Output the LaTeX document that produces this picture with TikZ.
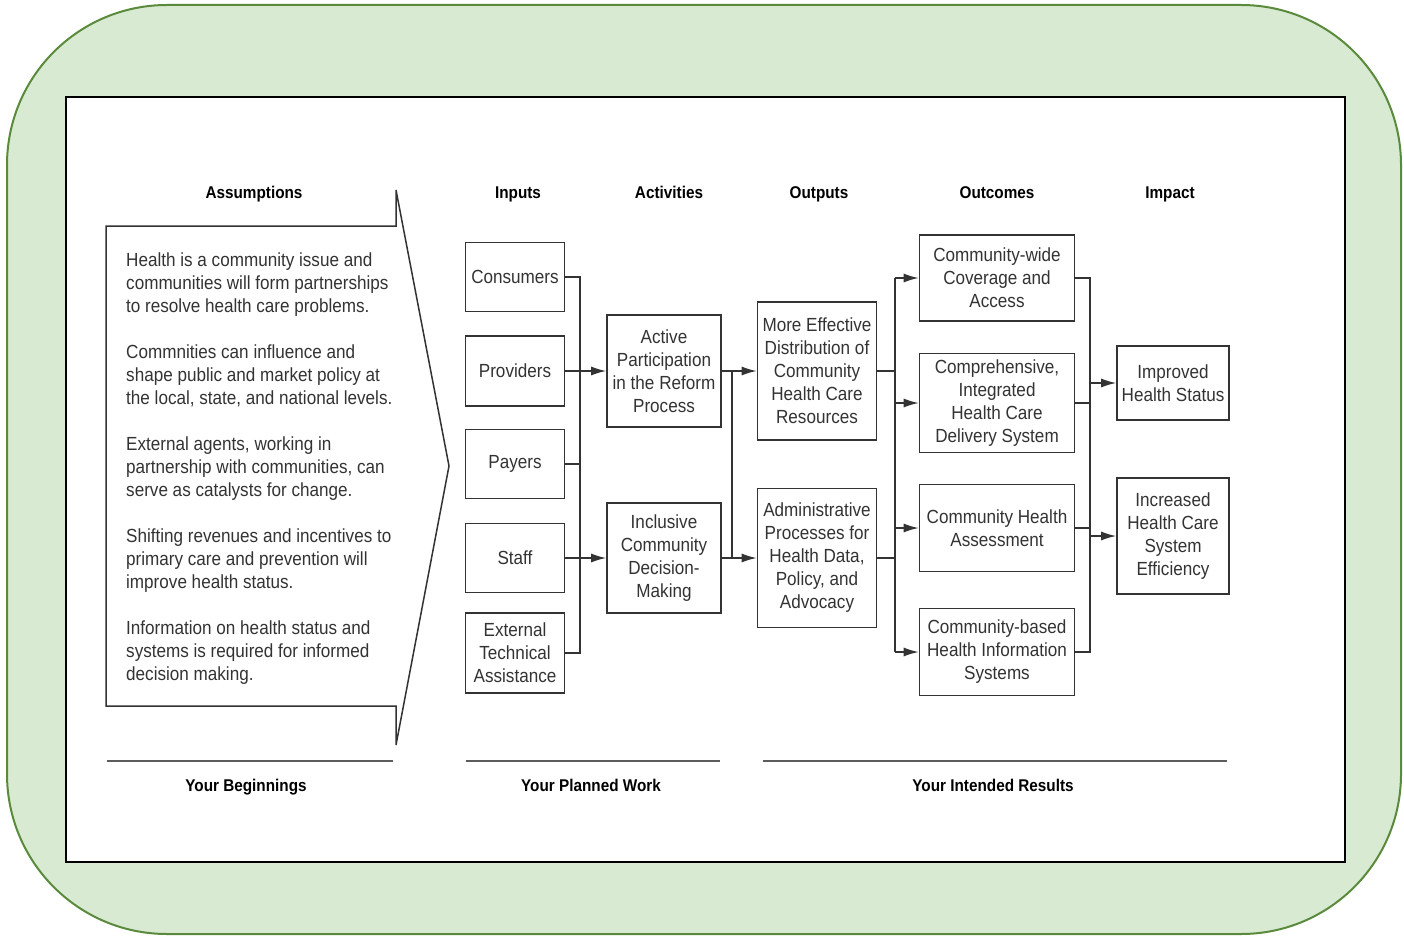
\documentclass[tikz,border=0pt]{standalone}
\usepackage{fontspec}
\setmainfont{Liberation Sans}[FakeStretch=0.9]
\usetikzlibrary{shapes,positioning,arrows.meta,calc}
\usepackage{xcolor}
\definecolor{bggreen}{HTML}{D9EAD3}
\definecolor{edgegreen}{HTML}{5A8A3C}
\definecolor{ink}{HTML}{333333}

\begin{document}
\begin{tikzpicture}[x=1pt,y=-1pt,>={Latex[length=15pt,width=9pt]}]
      \tikzstyle{obj}=[draw=ink, line width=1.6pt, text=ink, align=center, inner sep=1pt, font=\fontsize{19}{23}\selectfont];
      \tikzstyle{head}=[anchor=base, font=\bfseries\fontsize{17}{20}\selectfont];
      \tikzstyle{link}=[draw=ink, line width=1.5pt];
      \tikzstyle{rule}=[draw=ink!80, line width=2.5pt];

      \useasboundingbox (0,0) rectangle (1404,936);
      \draw [edgegreen, fill=bggreen, line width=2pt, rounded corners=160pt] (7,5) rectangle (1401,934);
      \draw [black, fill=white, line width=2pt] (66,97) rectangle (1345,862);

      \node (hass) at (254,198)[head]{Assumptions};
      \node (hin) at (518,198)[head]{Inputs};
      \node (hact) at (669,198)[head]{Activities};
      \node (hout) at (819,198)[head]{Outputs};
      \node (hoc) at (997,198)[head]{Outcomes};
      \node (himp) at (1170,198)[head]{Impact};

      \draw [ink, line width=1.5pt] (106,226) -- (396,226) -- (396,190) -- (449,466) -- (396,745) -- (396,706) -- (106,706) -- cycle;
      \node (atext) at (126,253)[anchor=north west, inner sep=0pt, align=left, text=ink, font=\fontsize{19}{23}\selectfont]{Health is a community issue and\\communities will form partnerships\\to resolve health care problems.\\[23pt]Commnities can influence and\\shape public and market policy at\\the local, state, and national levels.\\[23pt]External agents, working in\\partnership with communities, can\\serve as catalysts for change.\\[23pt]Shifting revenues and incentives to\\primary care and prevention will\\improve health status.\\[23pt]Information on health status and\\systems is required for informed\\decision making.};

      \node (in1) at (515,277)[obj, minimum width=99pt, minimum height=69pt]{Consumers};
      \node (in2) at (515,371)[obj, minimum width=99pt, minimum height=70pt]{Providers};
      \node (in3) at (515,464)[obj, minimum width=99pt, minimum height=69pt]{Payers};
      \node (in4) at (515,558)[obj, minimum width=99pt, minimum height=69pt]{Staff};
      \node (in5) at (515,653)[obj, minimum width=99pt, minimum height=80pt]{External\\Technical\\Assistance};

      \node (act1) at (664,371)[obj, minimum width=114pt, minimum height=112pt]{Active\\Participation\\in the Reform\\Process};
      \node (act2) at (664,558)[obj, minimum width=114pt, minimum height=110pt]{Inclusive\\Community\\Decision-\\Making};

      \node (out1) at (817,371)[obj, minimum width=119pt, minimum height=138pt]{More Effective\\Distribution of\\Community\\Health Care\\Resources};
      \node (out2) at (817,558)[obj, minimum width=119pt, minimum height=139pt]{Administrative\\Processes for\\Health Data,\\Policy, and\\Advocacy};

      \node (oc1) at (997,278)[obj, minimum width=155pt, minimum height=86pt]{Community-wide\\Coverage and\\Access};
      \node (oc2) at (997,403)[obj, minimum width=155pt, minimum height=99pt]{Comprehensive,\\Integrated\\Health Care\\Delivery System};
      \node (oc3) at (997,528)[obj, minimum width=155pt, minimum height=87pt]{Community Health\\Assessment};
      \node (oc4) at (997,652)[obj, minimum width=155pt, minimum height=87pt]{Community-based\\Health Information\\Systems};

      \node (imp1) at (1173,383)[obj, minimum width=112pt, minimum height=74pt]{Improved\\Health Status};
      \node (imp2) at (1173,536)[obj, minimum width=112pt, minimum height=116pt]{Increased\\Health Care\\System\\Efficiency};

      \coordinate (bus1) at (580,0);
      \coordinate (bus2) at (732,0);
      \coordinate (bus3) at (895,0);
      \coordinate (bus4) at (1090,0);

      \draw [link] (in1.east) -- (in1.east -| bus1) -- (in5.east -| bus1) -- (in5.east);
      \draw [link] (in3.east) -- (in3.east -| bus1);
      \draw [link, ->] (in2.east) -- (act1.west);
      \draw [link, ->] (in4.east) -- (act2.west);

      \draw [link, ->] (act1.east) -- (out1.west);
      \draw [link, ->] (act2.east) -- (out2.west);
      \draw [link] (act1.east -| bus2) -- (act2.east -| bus2);

      \draw [link] (out1.east) -- (out1.east -| bus3);
      \draw [link] (out2.east) -- (out2.east -| bus3);
      \draw [link] (oc1.west -| bus3) -- (oc4.west -| bus3);
      \draw [link, ->] (oc1.west -| bus3) -- (oc1.west);
      \draw [link, ->] (oc2.west -| bus3) -- (oc2.west);
      \draw [link, ->] (oc3.west -| bus3) -- (oc3.west);
      \draw [link, ->] (oc4.west -| bus3) -- (oc4.west);

      \draw [link] (oc1.east) -- (oc1.east -| bus4) -- (oc4.east -| bus4) -- (oc4.east);
      \draw [link] (oc2.east) -- (oc2.east -| bus4);
      \draw [link] (oc3.east) -- (oc3.east -| bus4);
      \draw [link, ->] (imp1.west -| bus4) -- (imp1.west);
      \draw [link, ->] (imp2.west -| bus4) -- (imp2.west);

      \draw [rule] (107,761) -- (393,761);
      \draw [rule] (466,761) -- (720,761);
      \draw [rule] (763,761) -- (1227,761);
      \node (f1) at (246,791)[head]{Your Beginnings};
      \node (f2) at (591,791)[head]{Your Planned Work};
      \node (f3) at (993,791)[head]{Your Intended Results};

    \end{tikzpicture}
\end{document}
